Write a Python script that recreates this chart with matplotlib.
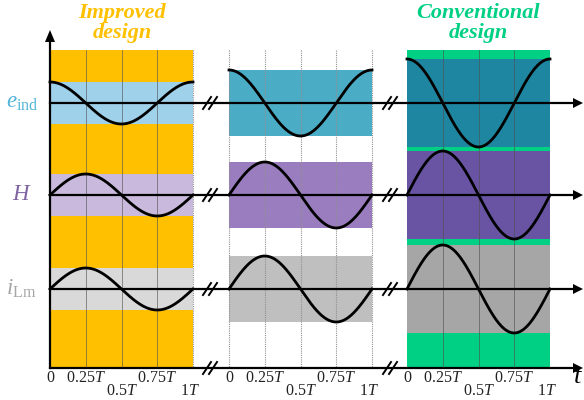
import matplotlib.pyplot as plt
import numpy as np

plt.rcParams["font.family"] = ["Liberation Serif", "DejaVu Serif"]
plt.rcParams["mathtext.fontset"] = "custom"
plt.rcParams["mathtext.rm"] = "Liberation Serif"
plt.rcParams["mathtext.it"] = "Liberation Serif:italic"

# signals (rows) and their phase shape
signals = ["e_ind", "H", "i_Lm"]
signal_labels = [r"$e_{\mathrm{ind}}$", r"$H$", r"$i_{\mathrm{Lm}}$"]
signal_colors = ["#4fb3d9", "#8064a2", "#a6a6a6"]
signal_phase = [np.pi / 2, 0.0, 0.0]  # e_ind is a cosine, H and i_Lm are sines

# panels: improved design, intermediate, conventional design
amplitude = {
    "improved": [21, 21, 21],
    "middle": [33, 33, 33],
    "conventional": [44, 44, 44],
}
band_colors = {
    "improved": ["#9fd1ea", "#c9b9dc", "#d9d9d9"],
    "middle": ["#4bacc6", "#9a7dbe", "#bfbfbf"],
    "conventional": ["#1f86a1", "#6954a3", "#a6a6a6"],
}
panel_bg = {"improved": "#ffc000", "middle": "white", "conventional": "#00d084"}

tick_frac = [0, 0.25, 0.5, 0.75, 1]
tick_text = ["0", "0.25$T$", "0.5$T$", "0.75$T$", "1$T$"]

# layout (pixel units)
panel_x0 = {"improved": 50, "middle": 229, "conventional": 407}
panel_w = 143
row_y = [103, 195, 289]
axis_y = 368
top_y = 50
break_x = [210, 390]
x_end = 583

fig = plt.figure(figsize=(5.84, 4.0), dpi=100)
ax = fig.add_axes([0, 0, 1, 1])
ax.set_xlim(0, 584)
ax.set_ylim(400, 0)
ax.axis("off")

frac = np.linspace(0, 1, 300)
for name, x0 in panel_x0.items():
    x1 = x0 + panel_w
    if panel_bg[name] != "white":
        ax.fill_between([x0, x1], top_y, axis_y, color=panel_bg[name], lw=0, zorder=0)
    for k in range(3):
        a = amplitude[name][k]
        ax.fill_between([x0, x1], row_y[k] - a, row_y[k] + a,
                        color=band_colors[name][k], lw=0, zorder=1)
    # time grid lines
    for f in tick_frac:
        xg = x0 + f * panel_w
        if name == "middle" or f == 1 and name == "improved":
            ax.plot([xg, xg], [top_y, axis_y], color="#909090", lw=0.8,
                    ls=(0, (1, 1)), zorder=2)
        elif 0 < f < 1:
            ax.plot([xg, xg], [top_y, axis_y], color="#505050", lw=0.6,
                    alpha=0.7, zorder=2)
    # waveforms
    for k in range(3):
        a = amplitude[name][k]
        y = row_y[k] - a * np.sin(2 * np.pi * frac + signal_phase[k])
        ax.plot(x0 + frac * panel_w, y, color="black", lw=2.0, zorder=4)
    # tick labels
    for f, t in zip(tick_frac, tick_text):
        xt = x0 + f * panel_w
        yt = 378 if f in (0, 0.25, 0.75) else 391
        if f == 1:
            xt -= 3
        ax.text(xt, yt, t, ha="center", va="center", fontsize=11.5, color="#222222")

# horizontal axes with arrows and break marks
for yb in row_y + [axis_y]:
    ax.plot([50, x_end - 8], [yb, yb], color="black", lw=1.6, zorder=5)
    ax.fill([x_end - 10, x_end, x_end - 10], [yb - 5, yb, yb + 5],
            color="black", lw=0, zorder=5)
    for bx in break_x:
        for dx in (-3, 3):
            ax.plot([bx + dx - 4, bx + dx + 4], [yb + 6, yb - 6],
                    color="black", lw=1.4, zorder=6)

# vertical axis
ax.plot([50, 50], [axis_y, 40], color="black", lw=1.6, zorder=5)
ax.fill([45, 50, 55], [42, 30, 42], color="black", lw=0, zorder=5)

# row labels
label_x = [22, 22, 21]
for k in range(3):
    ax.text(label_x[k], row_y[k], signal_labels[k], ha="center", va="center",
            fontsize=16.5, color=signal_colors[k])

ax.text(578, 377, "$t$", ha="center", va="center", fontsize=19, color="black")

ax.text(122, 23, "Improved\ndesign", ha="center", va="center", fontsize=16,
        style="italic", weight="bold", color="#ffc000", linespacing=0.95)
ax.text(478, 23, "Conventional\ndesign", ha="center", va="center", fontsize=16,
        style="italic", weight="bold", color="#00d084", linespacing=0.95)

fig.savefig("out.png", dpi=100)
